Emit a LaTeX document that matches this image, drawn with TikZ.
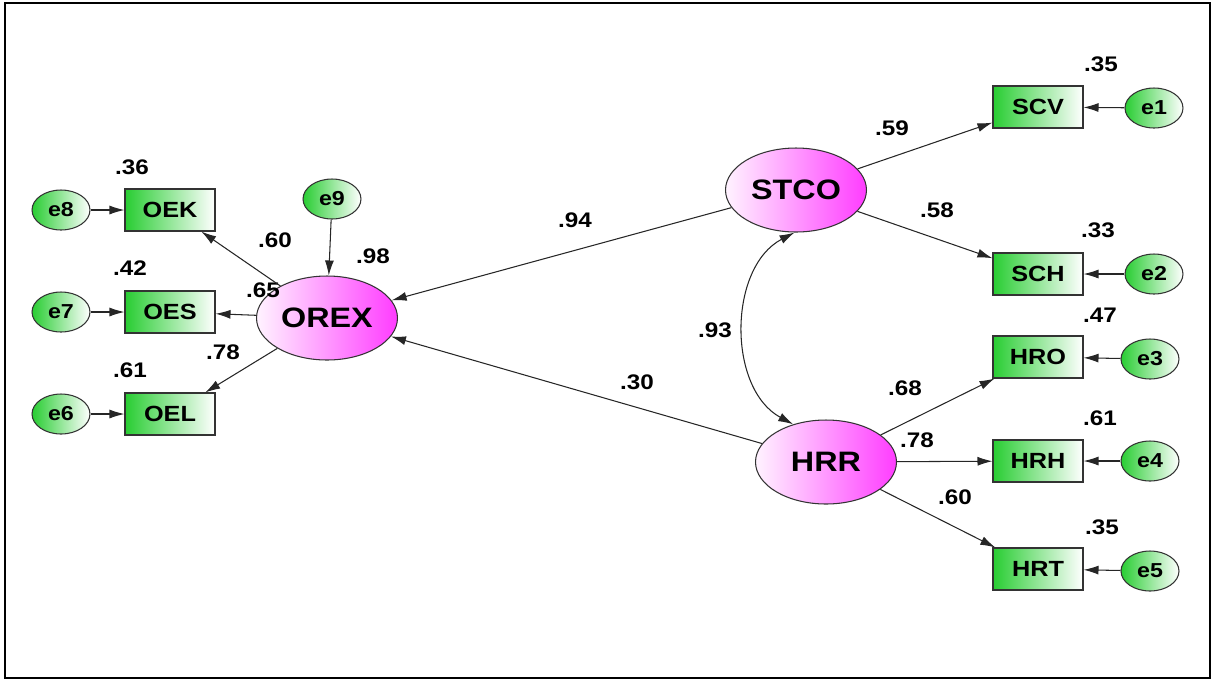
\documentclass[tikz,border=0pt]{standalone}
\usepackage{fontspec}
\setmainfont{Liberation Sans}[FakeStretch=1.15]
\usepackage{tikz}
\usetikzlibrary{arrows.meta}
\usetikzlibrary{shapes}
\usetikzlibrary{positioning}

\definecolor{boxgreen}{RGB}{40,205,50}
\definecolor{latpink}{RGB}{255,60,255}

\begin{document}
\begin{tikzpicture}[x=0.02cm,y=-0.02cm,
    latent/.style={ellipse,draw=black!80,line width=0.6pt,minimum width=2.82cm,minimum height=1.68cm,inner sep=0pt,
      left color=latpink!6,right color=latpink,font=\fontsize{16}{16}\selectfont\bfseries},
    observed/.style={rectangle,draw=black!80,line width=0.6pt,minimum width=1.8cm,minimum height=0.84cm,inner sep=0pt,
      left color=boxgreen,right color=white,font=\fontsize{12.5}{12.5}\selectfont\bfseries},
    err/.style={ellipse,draw=black!80,line width=0.6pt,minimum width=1.16cm,minimum height=0.8cm,inner sep=0pt,
      left color=boxgreen,right color=white,font=\fontsize{11.5}{11.5}\selectfont\bfseries},
    coef/.style={font=\fontsize{12}{12}\selectfont\bfseries,inner sep=0pt}]
    \useasboundingbox (0,0) rectangle (1215,681);
    \draw[line width=0.04cm] (5,3) rectangle (1210,678);
    % latent variables
    \node[latent] (orex) at (327,318) {OREX};
    \node[latent] (stco) at (796,190) {STCO};
    \node[latent] (hrr) at (826,462) {HRR};
    % indicators
    \begin{scope}[every node/.style={observed}]
      \node (oek) at (170,210) {OEK};
      \node (oes) at (170,312) {OES};
      \node (oel) at (170,414) {OEL};
      \node (scv) at (1038,107) {SCV};
      \node (sch) at (1038,274) {SCH};
      \node (hro) at (1038,357) {HRO};
      \node (hrh) at (1038,461) {HRH};
      \node (hrt) at (1038,569) {HRT};
    \end{scope}
    % error terms
    \begin{scope}[every node/.style={err}]
      \node (e8) at (61,210) {e8};
      \node (e7) at (61,312) {e7};
      \node (e6) at (61,414) {e6};
      \node (e9) at (332,199) {e9};
      \node (e1) at (1154,108) {e1};
      \node (e2) at (1154,274) {e2};
      \node (e3) at (1150,359) {e3};
      \node (e4) at (1150,461) {e4};
      \node (e5) at (1150,571) {e5};
    \end{scope}
    % estimates
    \begin{scope}[every node/.style={coef}]
      \node (r36) at (132,167) {.36};
      \node (r42) at (130,268) {.42};
      \node (r61a) at (130,370) {.61};
      \node (l60) at (275,240) {.60};
      \node (l65) at (263,290) {.65};
      \node (l78a) at (223,352) {.78};
      \node (r98) at (373,256) {.98};
      \node (p94) at (575,220) {.94};
      \node (p30) at (637,382) {.30};
      \node (c93) at (715,330) {.93};
      \node (l59) at (892,128) {.59};
      \node (l58) at (937,210) {.58};
      \node (r35a) at (1101,64) {.35};
      \node (r33) at (1098,230) {.33};
      \node (r47) at (1100,315) {.47};
      \node (l68) at (905,388) {.68};
      \node (l78b) at (917,440) {.78};
      \node (r61b) at (1100,418) {.61};
      \node (l60b) at (955,497) {.60};
      \node (r35b) at (1102,527) {.35};
    \end{scope}
    % paths
    \begin{scope}[every edge/.style={draw=black!85,line width=0.6pt,-{Latex[length=3mm,width=1.8mm]}}]
      \path (e8) edge (oek);
      \path (e7) edge (oes);
      \path (e6) edge (oel);
      \path (e9) edge (orex);
      \path (orex) edge (oek);
      \path (orex) edge (oes);
      \path (orex) edge (oel);
      \path (stco) edge (orex);
      \path (hrr) edge (orex);
      \path (stco) edge (scv);
      \path (stco) edge (sch);
      \path (hrr) edge (hro);
      \path (hrr) edge (hrh);
      \path (hrr) edge (hrt);
      \path (e1) edge (scv);
      \path (e2) edge (sch);
      \path (e3) edge (hro);
      \path (e4) edge (hrh);
      \path (e5) edge (hrt);
      \path (stco.268) edge[{Latex[length=3mm,width=1.8mm]}-{Latex[length=3mm,width=1.8mm]}, bend right=62] (hrr.131);
    \end{scope}
\end{tikzpicture}
\end{document}
